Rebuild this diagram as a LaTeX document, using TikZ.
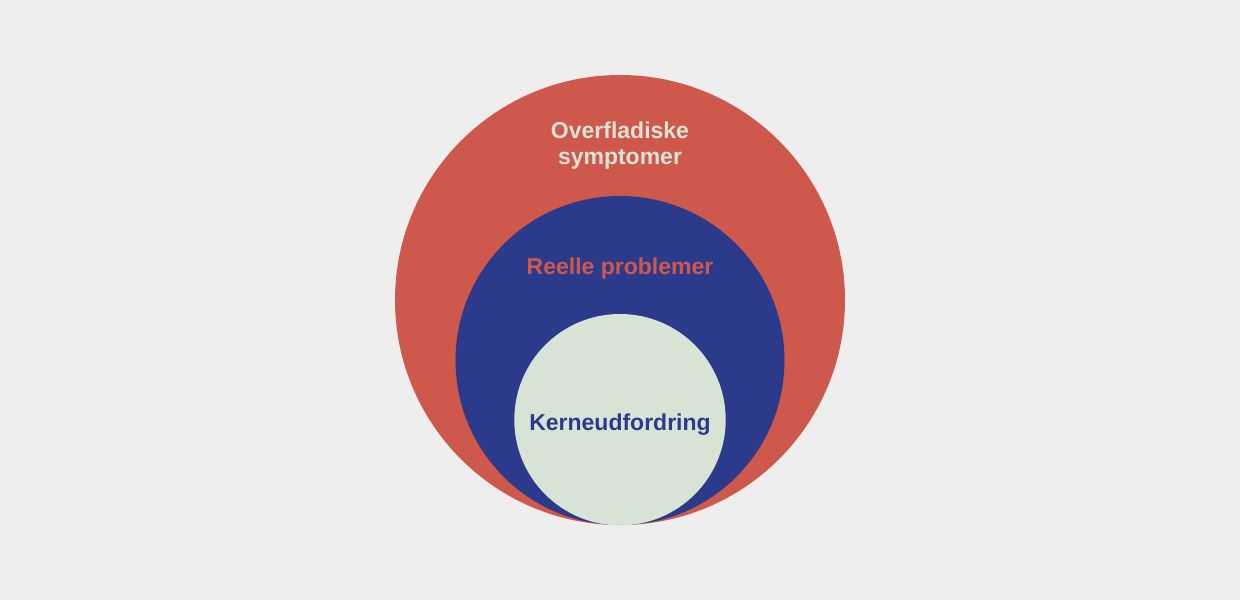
\documentclass[tikz,border=0pt]{standalone}
\usepackage{fontspec}
\setmainfont{Liberation Sans}
\definecolor{bgc}{HTML}{EEEEEE}
\definecolor{redc}{HTML}{CF584C}
\definecolor{bluec}{HTML}{2C3A8C}
\definecolor{greenc}{HTML}{D7E4D5}
\begin{document}
\begin{tikzpicture}[x=1pt,y=1pt,
  ring/.style={circle,inner sep=0pt,draw=none},
  lbl/.style={font=\fontsize{23}{26.7}\selectfont\bfseries,anchor=base,inner sep=0pt,align=center}]
\fill[bgc] (0,0) rectangle (1240,600);
\useasboundingbox (0,0) rectangle (1240,600);
\node[ring,fill=redc,minimum size=450pt] (outer) at (620,300) {};
\node[ring,fill=bluec,minimum size=329pt] (middle) at (620,239.5) {};
\node[ring,fill=greenc,minimum size=211.4pt] (inner) at (620,180.3) {};
\node[lbl,text=greenc] (t1) at (620,461.7) {Overfladiske};
\node[lbl,text=greenc] (t1b) at (620,435) {symptomer};
\node[lbl,text=redc] (t2) at (620,325) {Reelle problemer};
\node[lbl,text=bluec] (t3) at (620,169.3) {Kerneudfordring};
\end{tikzpicture}
\end{document}
